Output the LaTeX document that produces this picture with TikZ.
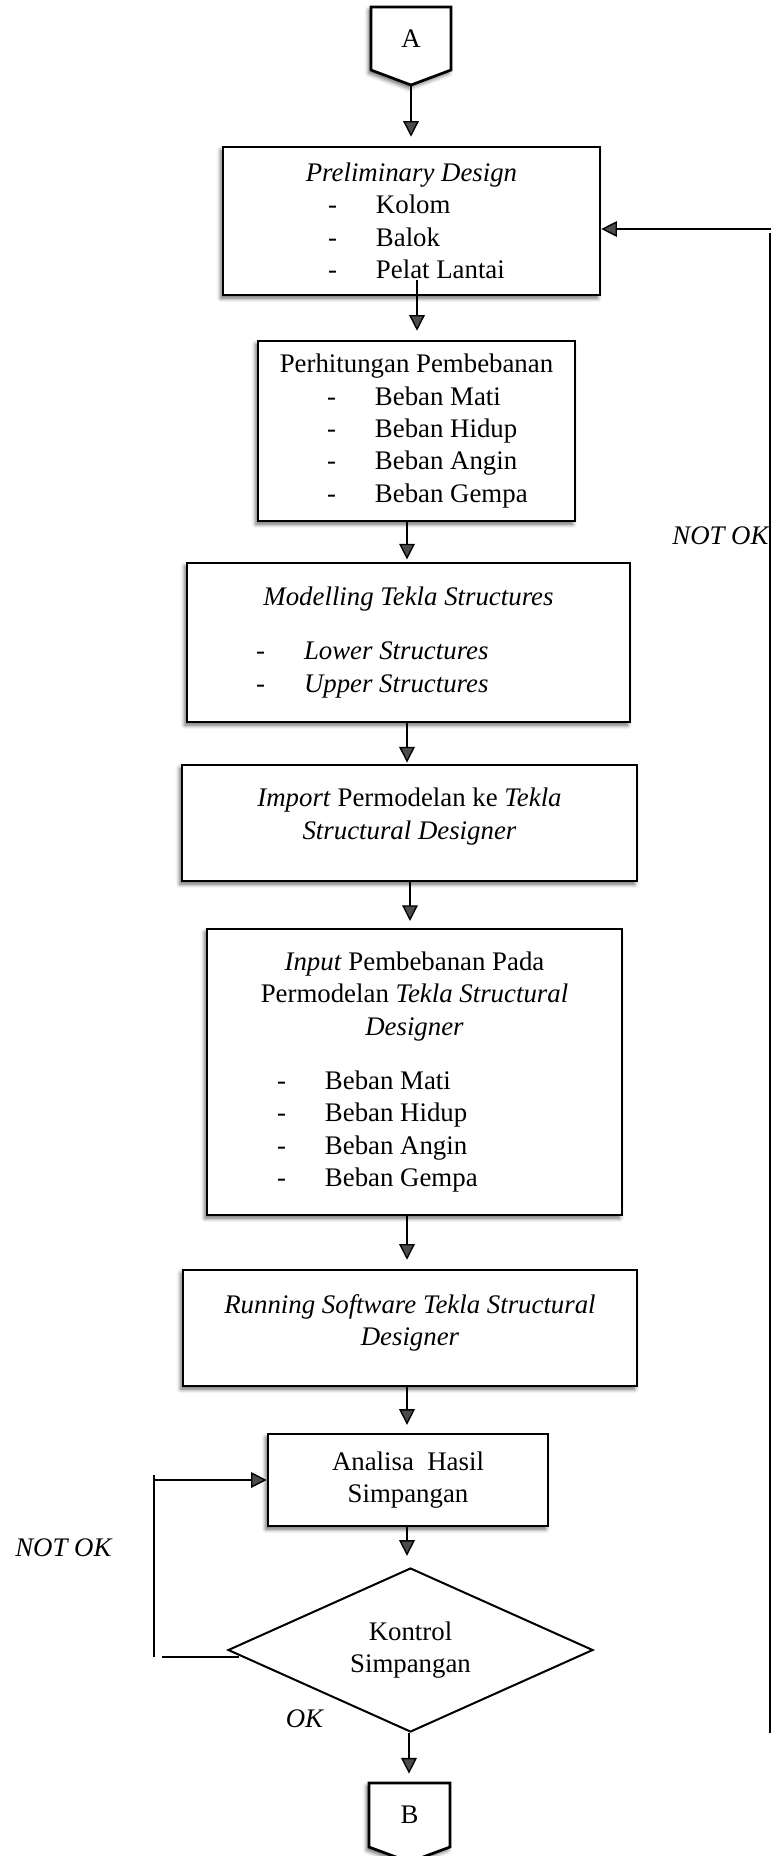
\documentclass[tikz,border=0pt]{standalone}
\usepackage{fontspec}
\setmainfont{Liberation Serif}
\usetikzlibrary{arrows.meta,shapes.geometric,shadows.blur,calc}

\newdimen\px
\px=0.4474pt
% list line: dash, tab, item
\newcommand{\li}[2]{\makebox[#1\px][l]{\makebox[48\px][l]{-}#2}}

\tikzset{
  boxshadow/.style={blur shadow={shadow xshift=-1pt,shadow yshift=-1.4pt,
      shadow blur radius=1.8pt,shadow opacity=60}},
  procbox/.style={draw,line width=1.2pt,fill=white,align=center,inner sep=0pt,boxshadow},
  flow/.style={line width=0.6pt,-{Triangle[length=7pt,width=7pt]}},
}

\begin{document}
\begin{tikzpicture}[x=0.4474pt,y=-0.4474pt,font=\fontsize{12}{14.5}\selectfont]

  \useasboundingbox (0,0) rectangle (776,1856);

  % off-page connectors
  \coordinate (a) at (411,38.5);
  \coordinate (b) at (409.5,1815);
  \draw[line width=1.2pt,fill=white,boxshadow] (a) ++(-40,-31.5) -- ++(80,0) -- ++(0,63)
    -- ++(-40,15) -- ++(-40,-15) -- cycle;
  \draw[line width=1.2pt,fill=white,boxshadow] (b) ++(-40.5,-32) -- ++(81,0) -- ++(0,64)
    -- ++(-40.5,15) -- ++(-40.5,-15) -- cycle;
  \node[minimum width=80*\px,minimum height=63*\px,inner sep=0pt] (1) at (a) {A};
  \node[minimum width=81*\px,minimum height=64*\px,inner sep=0pt] (10) at (b) {B};

  \begin{scope}[every node/.style={procbox}]
    \node[minimum width=377*\px,minimum height=148*\px] (2) at (411.5,221)
      {\textit{Preliminary Design}\\ \li{167}{Kolom}\\ \li{167}{Balok}\\ \li{167}{Pelat Lantai}};
    \node[minimum width=317*\px,minimum height=180*\px] (3) at (416.5,431)
      {Perhitungan Pembebanan\\ \li{179}{Beban Mati}\\ \li{179}{Beban Hidup}\\
       \li{179}{Beban Angin}\\ \li{179}{Beban Gempa}};
    \node[minimum width=443*\px,minimum height=159*\px] (4) at (408.5,642.5)
      {\textit{Modelling Tekla Structures}\\[9.6pt] \li{305}{\textit{Lower Structures}}\\
       \li{305}{\textit{Upper Structures}}};
    \node[minimum width=455*\px,minimum height=116*\px,text depth=8.4pt] (5) at (409.5,823)
      {\textit{Import} Permodelan ke \textit{Tekla}\\ \textit{Structural Designer}};
    \node[minimum width=415*\px,minimum height=286*\px] (6) at (414.5,1072)
      {\textit{Input} Pembebanan Pada\\ Permodelan \textit{Tekla Structural}\\ \textit{Designer}\\[9.6pt]
       \li{275}{Beban Mati}\\ \li{275}{Beban Hidup}\\ \li{275}{Beban Angin}\\ \li{275}{Beban Gempa}};
    \node[minimum width=454*\px,minimum height=116*\px,text depth=7.1pt] (7) at (410,1328)
      {\textit{Running Software Tekla Structural}\\ \textit{Designer}};
    \node[minimum width=280*\px,minimum height=92*\px] (8) at (408,1480)
      {Analisa~~Hasil\\ Simpangan};
  \end{scope}

  \node[diamond,draw,line width=0.9pt,aspect=2.2,inner sep=0pt,align=center,fill=white,
    minimum width=365*\px,minimum height=164*\px] (9) at (410.5,1650) {Kontrol\\ Simpangan};

  % main flow
  \coordinate (2t) at (417,280);
  \begin{scope}[every edge/.style={draw,flow,shorten >=4pt}]
    \path ($(1.south)+(0,15)$) edge (1.south |- 2.north);
    \path (2t) edge (2t |- 3.north);
    \path (3.south -| 407,0) edge[shorten >=1pt] (4.north -| 407,0);
    \path (4.south -| 407,0) edge[shorten >=0.5pt] (5.north -| 407,0);
    \path (5.south -| 410,0) edge[shorten >=3pt] (6.north -| 410,0);
    \path (6.south -| 407,0) edge (7.north -| 407,0);
    \path (7.south -| 407,0) edge[shorten >=3.5pt] (8.north -| 407,0);
    \path (8.south -| 407,0) edge[shorten >=5pt] (9.north -| 407,0);
    \path (9.south -| 409,0) edge (10.north -| 409,0);
  \end{scope}

  % loop back to preliminary design
  \coordinate (r1) at (771,229);
  \coordinate (r2) at (770,233);
  \coordinate (r3) at (770,1733);
  \draw[flow] (r1) -- (r1 -| 2.east);
  \draw[line width=0.6pt] (r2) -- (r3);

  % loop back to analisa
  \coordinate (l1) at (154,1475);
  \coordinate (l2) at (154,1657);
  \coordinate (l3) at (162,1657);
  \draw[line width=0.6pt] (l1) -- (l2);
  \draw[flow] (8.west -| l1) -- (8.west);
  \draw[line width=0.6pt] (l3) -- ($(l3 -| 9.west)+(12,0)$);

  \node (11) at (721,536) {\textit{NOT OK}};
  \node (12) at (64,1548) {\textit{NOT OK}};
  \node (13) at (305,1719) {\textit{OK}};

\end{tikzpicture}
\end{document}
